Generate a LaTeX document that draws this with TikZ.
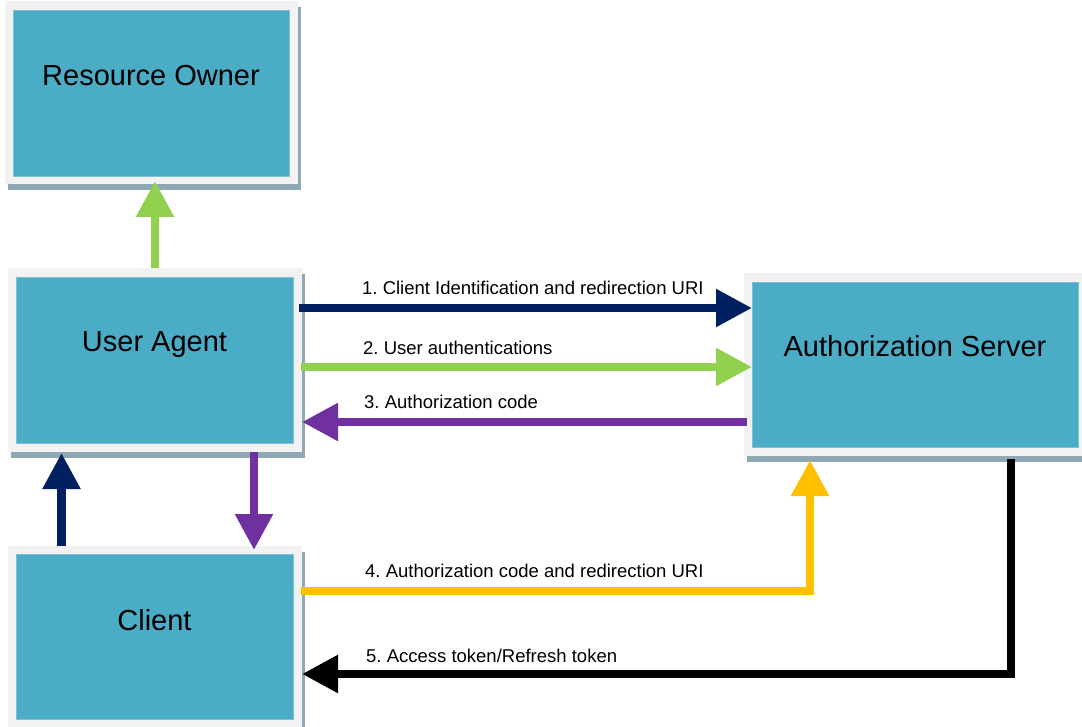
\documentclass[tikz,border=0pt]{standalone}
\usepackage{fontspec}
\setmainfont{Liberation Sans}
\usetikzlibrary{arrows.meta,calc,backgrounds}
\frenchspacing

\definecolor{panelfill}{HTML}{4BACC6}
\definecolor{paneledge}{HTML}{7CC3D6}
\definecolor{framegray}{HTML}{F2F2F2}
\definecolor{shadowgray}{HTML}{8EA8B5}
\definecolor{navy}{HTML}{002060}
\definecolor{leaf}{HTML}{92D050}
\definecolor{plum}{HTML}{7030A0}
\definecolor{amber}{HTML}{FFC000}

\tikzset{
  panel/.style={rectangle, fill=panelfill, draw=paneledge, line width=0.8pt,
                inner sep=0pt, outer sep=0pt},
  title/.style={font=\fontsize{29}{34}\selectfont, inner sep=0pt, anchor=base},
  msg/.style={font=\fontsize{18.5}{22}\selectfont, inner sep=0pt, anchor=base west},
  flow/.style={line width=8.5pt, line join=miter,
               -{Triangle[length=36pt,width=36pt]}},
}

\begin{document}
\begin{tikzpicture}[x=1pt,y=-1pt]
\useasboundingbox (0,0) rectangle (1082,727);

% actors
\node[panel, minimum width=276pt, minimum height=166pt] (ro) at (151,93) {};
\node[panel, minimum width=277pt, minimum height=166pt] (ua) at (154.5,360) {};
\node[panel, minimum width=326pt, minimum height=165pt] (as) at (915,364.5) {};
\node[panel, minimum width=277pt, minimum height=165pt] (cl) at (154.5,636.5) {};

% light frame with a drop shadow behind each actor
\begin{scope}[on background layer]
  \foreach \n in {ro,ua,as,cl}{
    \fill[shadowgray] ($(\n.south west)+(-5.5,14.5)$) rectangle ($(\n.north east)+(11.5,-2.5)$);
    \fill[framegray] ($(\n.south west)+(-8.5,8.5)$) rectangle ($(\n.north east)+(8.5,-8.5)$);
  }
\end{scope}

% actor titles
\node[title] (ro-t) at ($(ro.north)+(0,76)$) {Resource Owner};
\node[title] (ua-t) at ($(ua.north)+(0,75)$) {User Agent};
\node[title] (as-t) at ($(as.north)+(0,74)$) {Authorization Server};
\node[title] (cl-t) at ($(cl.north)+(0,76)$) {Client};

% vertical links between the left-hand actors
\coordinate (g0) at ($(ua.north)+(0.5,-9)$);
\draw[flow, leaf] (g0) -- (g0 |- {$(ro.south)+(0,5)$});

\coordinate (n0) at ($(cl.north)+(-93,-8)$);
\draw[flow, navy] (n0) -- (n0 |- {$(ua.south)+(0,10)$});

\coordinate (p0) at ($(ua.south)+(99.5,9)$);
\draw[flow, plum] (p0) -- (p0 |- {$(cl.north)+(0,-4)$});

% numbered messages
\coordinate (a1) at ($(ua.east)+(6,-52)$);
\draw[flow, navy] (a1) -- (a1 -| as.west);
\node[msg] (m1) at ($(a1)+(63,-13)$) {1. Client Identification and redirection URI};

\coordinate (a2) at ($(ua.east)+(8,7)$);
\draw[flow, leaf] (a2) -- (a2 -| as.west);
\node[msg] (m2) at ($(a2)+(62,-12)$) {2. User authentications};

\coordinate (a3) at ($(as.west)+(-5,57.5)$);
\draw[flow, plum] (a3) -- ($(a3 -| ua.east)+(9,0)$);
\node[msg] (m3) at ($(a3 -| ua.east)+(71,-14)$) {3. Authorization code};

\coordinate (a4) at ($(cl.east)+(8,-45.5)$);
\draw[flow, amber] (a4) -| ($(as.south)+(-105,13)$);
\node[msg] (m4) at ($(a4)+(64,-14)$) {4. Authorization code and redirection URI};

\coordinate (a5) at ($(as.south)+(96,12)$);
\draw[flow, black] (a5) |- ($(cl.east)+(9,37.5)$);
\node[msg] (m5) at ($(cl.east)+(73,25.5)$) {5. Access token/Refresh token};

\end{tikzpicture}
\end{document}
